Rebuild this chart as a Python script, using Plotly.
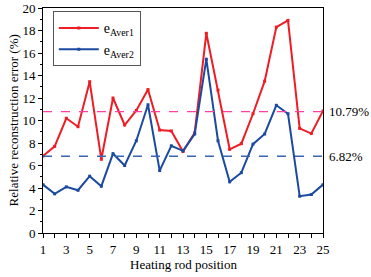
import plotly.graph_objects as go

positions = list(range(1, 26))
e_aver1 = [6.84, 7.7, 10.2, 9.45, 13.45, 6.55, 12.0, 9.6, 10.9, 12.75,
           9.15, 9.07, 7.25, 8.9, 17.75, 12.7, 7.44, 7.94, 10.6, 13.5,
           18.3, 18.9, 9.3, 8.84, 10.85]
e_aver2 = [4.3, 3.48, 4.1, 3.8, 5.05, 4.16, 7.05, 6.0, 8.2, 11.4,
           5.55, 7.75, 7.3, 8.8, 15.45, 8.2, 4.55, 5.36, 7.9, 8.8,
           11.35, 10.6, 3.27, 3.42, 4.3]
avg1 = 10.79
avg2 = 6.82
series_names = ["e<sub>Aver1</sub>", "e<sub>Aver2</sub>"]
x_title = "Heating rod position"
y_title = "Relative reconstruction error (%)"
x_tickvals = list(range(1, 26))
x_ticktext = [str(v) if v % 2 == 1 else "" for v in x_tickvals]

RED = "#ee1c24"
BLUE = "#1b4aa0"
FONT = "Times New Roman, Liberation Serif, serif"

fig = go.Figure()
fig.add_trace(go.Scatter(x=positions, y=e_aver1, mode="lines+markers", name=series_names[0],
                         line=dict(color=RED, width=2), marker=dict(symbol="square", size=3, color=RED)))
fig.add_trace(go.Scatter(x=positions, y=e_aver2, mode="lines+markers", name=series_names[1],
                         line=dict(color=BLUE, width=2), marker=dict(symbol="square", size=3, color=BLUE)))

fig.add_shape(type="line", xref="paper", yref="y", x0=0, x1=1.02, y0=avg1, y1=avg1,
              line=dict(color="#ff3fa4", width=1.3, dash="dash"))
fig.add_shape(type="line", xref="paper", yref="y", x0=0, x1=1.02, y0=avg2, y1=avg2,
              line=dict(color="#3a64b4", width=1.3, dash="dash"))
for v in (avg1, avg2):
    fig.add_annotation(xref="paper", yref="y", x=1.018, y=v, text=f"{v:.2f}%", showarrow=False,
                       xanchor="left", borderpad=0, font=dict(family=FONT, size=13, color="black"))

fig.add_annotation(xref="paper", yref="paper", x=0.5, y=-0.142, text=x_title, showarrow=False,
                   xanchor="center", yanchor="middle", font=dict(family=FONT, size=13, color="black"))
fig.add_annotation(xref="paper", yref="paper", x=-0.104, y=0.5, text=y_title, showarrow=False,
                   textangle=-90, xanchor="center", yanchor="middle",
                   font=dict(family=FONT, size=13, color="black"))

fig.update_layout(
    width=371, height=277,
    margin=dict(l=43, r=48, t=8, b=44, autoexpand=False),
    paper_bgcolor="white", plot_bgcolor="white",
    font=dict(family=FONT, size=13, color="black"),
    showlegend=True,
    legend=dict(x=0.035, y=0.985, xanchor="left", yanchor="top",
                bgcolor="white", bordercolor="#555555", borderwidth=1,
                font=dict(family=FONT, size=14), tracegroupgap=8, itemwidth=40),
    xaxis=dict(range=[1, 25], tickvals=x_tickvals, ticktext=x_ticktext, automargin=False,
               ticks="outside", ticklen=4, tickcolor="black", showgrid=False, zeroline=False,
               showline=True, linecolor="black", linewidth=1, mirror=True,
               tickfont=dict(family=FONT, size=13)),
    yaxis=dict(range=[0, 20], dtick=2, ticks="outside", ticklen=4, tickcolor="black",
               showgrid=False, zeroline=False, automargin=False,
               showline=True, linecolor="black", linewidth=1, mirror=True,
               minor=dict(dtick=1, ticks="outside", ticklen=2, tickcolor="black"),
               tickfont=dict(family=FONT, size=13)),
)

fig.write_html("out.html", config={"displayModeBar": False},
               post_script="document.body.style.margin='0';document.body.style.overflow='hidden';")
